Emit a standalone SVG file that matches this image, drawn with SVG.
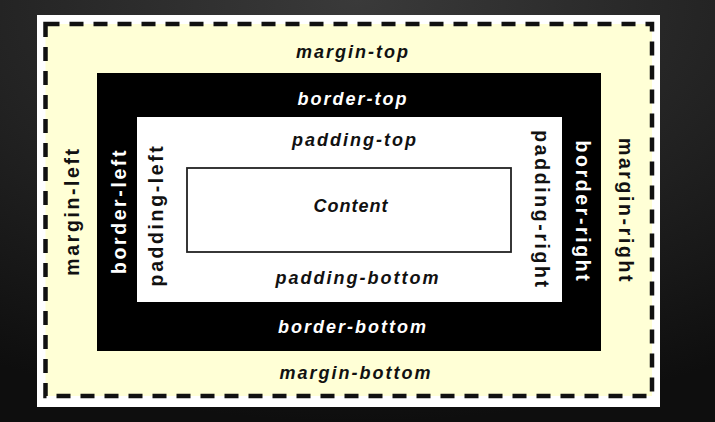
<svg xmlns="http://www.w3.org/2000/svg" width="715" height="422" viewBox="0 0 715 422">
  <defs>
    <radialGradient id="bg" cx="50%" cy="0%" r="100%">
      <stop offset="0" stop-color="#3a3a3a"/>
      <stop offset="1" stop-color="#0e0e0e"/>
    </radialGradient>
  </defs>
  <style>
    .h { font-family: "Liberation Sans", Arial, sans-serif; font-weight: bold; font-style: italic; font-size: 18px; letter-spacing: 2px; text-anchor: middle; }
    .v { font-family: "Liberation Sans", Arial, sans-serif; font-weight: bold; font-size: 19.5px; letter-spacing: 2.6px; text-anchor: middle; }
    .dark { fill: #111; }
    .light { fill: #fff; }
  </style>
  <rect x="0" y="0" width="715" height="422" fill="url(#bg)"/>
  <rect x="37" y="15" width="623" height="392" fill="#ffffff"/>

  <g id="margin">
    <rect x="45.5" y="24" width="606.5" height="372" fill="#ffffd6" stroke="#111" stroke-width="4.5" stroke-dasharray="14 10"/>
    <text class="h dark" x="353" y="58">margin-top</text>
    <text class="h dark" x="356" y="379">margin-bottom</text>
    <text class="v dark" transform="translate(79,211) rotate(-90)">margin-left</text>
    <text class="v dark" transform="translate(619,211) rotate(90)">margin-right</text>
  </g>

  <g id="border">
    <rect x="97" y="73" width="504" height="278" fill="#000"/>
    <text class="h light" x="353" y="105">border-top</text>
    <text class="h light" x="353" y="333">border-bottom</text>
    <text class="v light" transform="translate(126,211) rotate(-90)">border-left</text>
    <text class="v light" transform="translate(576,212) rotate(90)">border-right</text>
  </g>

  <g id="padding">
    <rect x="137" y="117" width="425" height="185" fill="#fff"/>
    <text class="h dark" x="355" y="146">padding-top</text>
    <text class="h dark" x="358" y="284">padding-bottom</text>
    <text class="v dark" transform="translate(163,215) rotate(-90)">padding-left</text>
    <text class="v dark" transform="translate(535,210) rotate(90)">padding-right</text>
  </g>

  <g id="content">
    <rect x="187" y="168" width="324" height="84" fill="#fff" stroke="#222" stroke-width="1.8"/>
    <text class="h dark" x="351" y="212" style="letter-spacing:1px">Content</text>
  </g>
</svg>
